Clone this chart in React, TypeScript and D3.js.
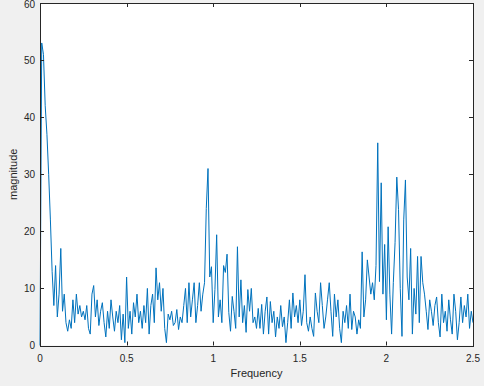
import { useEffect, useRef } from 'react';
import * as d3 from 'd3';

const width = 484;
const height = 386;
const marginLeft = 40;
const marginRight = 11;
const marginTop = 3;
const marginBottom = 40.5;

// frequency step between samples
const freqStep = 0.01;

// magnitude, 0 .. 2.5 in steps of 0.01
const magnitude = [
  0, 53, 51, 42, 37, 30, 22, 13, 7, 14,
  5, 9, 17, 6, 9, 4, 2.5, 4.5, 3, 8,
  4, 9, 5.5, 7, 5, 6, 4.5, 7, 3, 2,
  9, 10.5, 5, 8, 3.5, 6, 7.5, 4, 1.5, 6,
  3, 8, 5, 2.5, 6, 4, 7, 1, 5.5, 0.5,
  12, 3, 6, 2, 7.5, 5, 9, 4, 6, 3,
  7, 4, 10, 2, 7, 9, 4, 13.6, 8, 11,
  6, 10, 3, 0.5, 5.5, 4.5, 6, 3.5, 4, 6.3,
  2.8, 5, 4, 7, 10, 4, 11, 5, 8, 11,
  4, 7, 11, 6, 9, 11, 24, 31, 12, 13.8,
  4, 9.8, 19.4, 5, 8, 4, 14, 12.8, 16, 5.8,
  2.5, 8.6, 6, 3, 17.3, 5, 11.5, 4, 7, 2.3,
  9.8, 6, 10, 4, 5, 3, 6.5, 3, 7.2, 2,
  6, 8.5, 2, 7.7, 4, 6, 1.5, 5, 3, 7,
  3.3, 5, 0.5, 4, 8, 3, 9.2, 5, 7, 4,
  8, 3.5, 6, 12.4, 4, 2.5, 5, 3, 1.6, 9.2,
  6, 4, 11, 7, 3, 5, 8, 11, 6, 1.6,
  9, 5, 8, 3, 0.5, 6, 4, 7, 3, 9,
  2.8, 6, 5, 2, 4.5, 3, 16.4, 5, 8, 15,
  12, 9, 11, 8, 14, 35.5, 11.2, 28.5, 9, 17.7,
  4.5, 20.8, 9, 2, 11, 18, 29.5, 23.8, 10, 1.6,
  22, 29, 12, 8, 17, 2, 10, 5.5, 15.6, 4,
  15.6, 11, 9, 6, 2.8, 8, 6, 3.5, 7, 8.5,
  4, 1.5, 9, 4, 6, 2.5, 8, 4.5, 2, 9,
  6, 1, 4, 8.5, 4, 7, 5, 9, 3, 6,
  4,
];

const xTicks = [0, 0.5, 1, 1.5, 2, 2.5];
const yTicks = [0, 10, 20, 30, 40, 50, 60];

const axisColor = '#262626';
const lineColor = '#0072bd';
const font = '"Liberation Sans", Arial, sans-serif';

const App = () => {
  const svgRef = useRef(null);

  useEffect(() => {
    const svg = d3.select(svgRef.current);
    svg.selectAll('*').remove();

    const x = d3
      .scaleLinear()
      .domain([0, 2.5])
      .range([marginLeft, width - marginRight]);
    const y = d3
      .scaleLinear()
      .domain([0, 60])
      .range([height - marginBottom, marginTop]);

    const x0 = x.range()[0];
    const x1 = x.range()[1];
    const y0 = y.range()[0];
    const y1 = y.range()[1];

    svg.append('rect').attr('width', width).attr('height', height).attr('fill', '#f0f0f0');
    svg
      .append('rect')
      .attr('x', x0)
      .attr('y', y1)
      .attr('width', x1 - x0)
      .attr('height', y0 - y1)
      .attr('fill', '#ffffff');

    // the signal
    const line = d3
      .line()
      .x((d, i) => x(i * freqStep))
      .y((d) => y(d));

    svg
      .append('path')
      .datum(magnitude)
      .attr('d', line)
      .attr('fill', 'none')
      .attr('stroke', lineColor)
      .attr('stroke-width', 1)
      .attr('stroke-linejoin', 'round');

    // ticks on all four sides, pointing inwards
    const tickLen = 4;
    const g = svg.append('g').attr('stroke', axisColor).attr('stroke-width', 1);
    xTicks.forEach((t) => {
      const px = Math.round(x(t)) + 0.5;
      g.append('line').attr('x1', px).attr('x2', px).attr('y1', y0).attr('y2', y0 - tickLen);
      g.append('line').attr('x1', px).attr('x2', px).attr('y1', y1).attr('y2', y1 + tickLen);
    });
    yTicks.forEach((t) => {
      const py = Math.round(y(t)) + 0.5;
      g.append('line').attr('x1', x0).attr('x2', x0 + tickLen).attr('y1', py).attr('y2', py);
      g.append('line').attr('x1', x1).attr('x2', x1 - tickLen).attr('y1', py).attr('y2', py);
    });

    // box
    svg
      .append('rect')
      .attr('x', Math.round(x0) + 0.5)
      .attr('y', Math.round(y1) + 0.5)
      .attr('width', Math.round(x1) - Math.round(x0))
      .attr('height', Math.round(y0) - Math.round(y1))
      .attr('fill', 'none')
      .attr('stroke', axisColor)
      .attr('stroke-width', 1);

    // tick labels
    svg
      .append('g')
      .selectAll('text')
      .data(xTicks)
      .join('text')
      .attr('x', (d) => x(d))
      .attr('y', y0 + 16)
      .attr('text-anchor', 'middle')
      .attr('font-family', font)
      .attr('font-size', 10)
      .attr('fill', axisColor)
      .text((d) => String(d));

    svg
      .append('g')
      .selectAll('text')
      .data(yTicks)
      .join('text')
      .attr('x', x0 - 5)
      .attr('y', (d) => Math.max(y(d) + 3.5, 8))
      .attr('text-anchor', 'end')
      .attr('font-family', font)
      .attr('font-size', 10)
      .attr('fill', axisColor)
      .text((d) => String(d));

    // axis titles
    svg
      .append('text')
      .attr('x', (x0 + x1) / 2)
      .attr('y', y0 + 31)
      .attr('text-anchor', 'middle')
      .attr('font-family', font)
      .attr('font-size', 11)
      .attr('fill', axisColor)
      .text('Frequency');

    svg
      .append('text')
      .attr('transform', `translate(17,${(y0 + y1) / 2}) rotate(-90)`)
      .attr('text-anchor', 'middle')
      .attr('font-family', font)
      .attr('font-size', 11)
      .attr('fill', axisColor)
      .text('magnitude');
  }, []);

  return (
    <svg
      ref={svgRef}
      width={width}
      height={height}
      style={{ position: 'absolute', left: 0, top: 0, display: 'block' }}
    ></svg>
  );
};

export default App;
